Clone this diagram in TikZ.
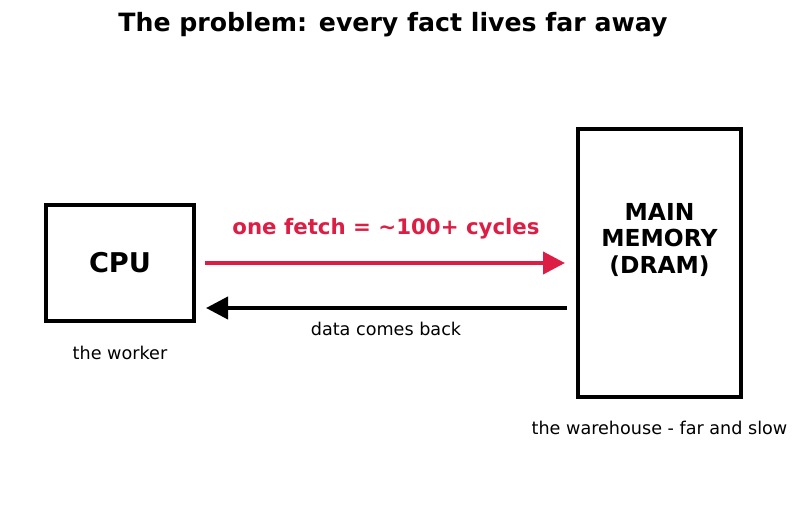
\documentclass[tikz,border=0pt]{standalone}
\usepackage{fontspec}
\setmainfont{DejaVu Sans}
\usetikzlibrary{positioning,arrows.meta}
\definecolor{fetchred}{RGB}{220,30,68}
\tikzset{
  unitbox/.style={draw,line width=4pt,inner sep=0pt},
  bigfont/.style={font=\bfseries\fontsize{27.2}{32}\selectfont},
  memfont/.style={font=\bfseries\fontsize{23.4}{26.7}\selectfont},
  smallfont/.style={font=\fontsize{17.6}{21}\selectfont,inner sep=0pt},
}
\begin{document}
\begin{tikzpicture}[x=1pt,y=-1pt,>={Triangle[length=22pt,width=22pt]}]
  \useasboundingbox (0,0) rectangle (801,511);
  \node[font=\bfseries\fontsize{25.2}{30}\selectfont] (title) at (393,25) {The problem: every fact lives far away};
  % the two boxes
  \node[unitbox,bigfont,minimum width=148pt,minimum height=116pt] (cpu) at (120,263) {CPU};
  \node[unitbox,minimum width=163pt,minimum height=268pt] (mem) at (659.5,263) {};
  \node[memfont,align=center] (memtxt) at (659.5,240) {MAIN\\MEMORY\\(DRAM)};
  \node[smallfont,below=23pt of cpu] (worker) {the worker};
  \node[smallfont,below=22pt of mem] (warehouse) {the warehouse - far and slow};
  % request and reply
  \draw[->,line width=4pt,fetchred,shorten <=9pt,shorten >=11pt] (cpu.east) -- (mem.west)
    node[midway,above=22pt,font=\bfseries\fontsize{21.3}{25}\selectfont,inner sep=0pt] (fetch) {one fetch = \textasciitilde100+ cycles};
  \draw[->,line width=4pt,shorten <=9pt,shorten >=10pt] ([yshift=-45pt]mem.west) -- ([yshift=-45pt]cpu.east)
    node[midway,below=12pt,smallfont] (back) {data comes back};
\end{tikzpicture}
\end{document}
